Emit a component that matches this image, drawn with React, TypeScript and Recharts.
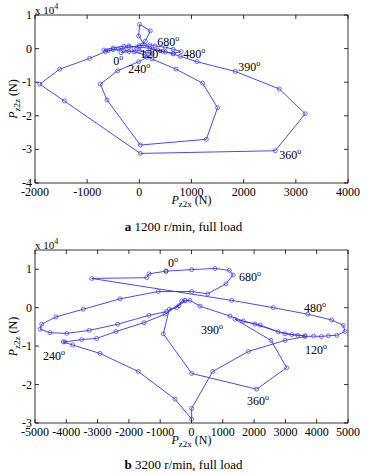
import { ScatterChart, Scatter, XAxis, YAxis, ReferenceArea, ReferenceDot } from "recharts";

const BLUE = "#3434f4";
const FONT = "'Liberation Serif', 'Times New Roman', serif";

// panel a: 1200 r/min, full load (N)
const A_PX = [-350, -200, 0, 150, 250, 150, -13, -416, -747, -619, 19, 1284, 1500, 1213, 703, 243, 100, -100, -300, -500, -650, -952, -1527, -1909, -1437, 19, 2605, 3180, 2682, 1839, 1105, 785, 650, 500, 350, 200, 0, -200, -300, -500, -680, -600, -400, -200, 0, 200, 300, 500, 650, 800, 650, 450, 250, 100, -13, 6, 211, 115, -100];
const A_PZ = [-1200, -900, -600, -1100, -1600, -2600, -3900, -6600, -10600, -15300, -28700, -27000, -17600, -10300, -6100, -3100, -1800, -1000, -400, -300, -900, -2900, -6100, -10600, -15600, -31200, -30400, -19400, -12000, -6800, -3900, -2300, -1600, -1000, -400, 100, 400, 800, 700, 200, -400, -600, -100, 400, 900, 1100, 800, 400, -200, -900, -1400, -800, -200, 1000, 3750, 7200, 5300, 2200, 0];
const A_XTICKS = [-2000, -1000, 0, 1000, 2000, 3000, 4000];
const A_YTICKS = [10000, 0, -10000, -20000, -30000, -40000];
const A_ANGLES = ["0", "120", "240", "360", "390", "480", "680"];
const A_ANGLE_X = [-498, 19, -211, 2682, 1897, 843, 345];
const A_ANGLE_Z = [-4880, -2800, -7260, -32860, -6670, -2800, 800];

// panel b: 3200 r/min, full load (N)
const B_PX = [-815, 5, 750, 1209, 1330, 1102, 517, 5, -1061, -2284, -3457, -4329, -4786, -4840, -4521, -3987, -3265, -2358, -1362, -798, -400, -200, -50, 272, 1230, 1655, 2188, 2773, 3200, 3626, 3400, 2987, 2029, 1390, 2540, 3041, 2083, 5, -901, -709, -473, -313, -208, -847, -1517, -2412, -3029, -3508, -4043, -4096, -3796, -2923, -1700, -527, 5, 5, 677, 1815, 2987, 3626, 3900, 4150, 4371, 4639, 4904, 4850, 4479, 3712, 2614, 1284, -3189, -1431, -1358, -815];
const B_PZ = [9500, 9900, 10200, 9700, 8500, 6200, 3600, 4200, 4200, 2300, -400, -2400, -4300, -5600, -6500, -6700, -5900, -4300, -2000, -1000, 500, 1800, 1900, 400, -2200, -3500, -4500, -6300, -7000, -7300, -7200, -6800, -4300, -3000, -8500, -15600, -21200, -17100, -6800, -400, 0, 1700, 1900, -1700, -3900, -6200, -8000, -8300, -8900, -8900, -9700, -11900, -16600, -23800, -29000, -26200, -16600, -11400, -8500, -7500, -7400, -7500, -7300, -7200, -6200, -4600, -3200, -1700, 0, 1900, 7600, 7800, 8800, 9500];
const B_XTICKS = [-5000, -4000, -3000, -2000, -1000, 0, 1000, 2000, 3000, 4000, 5000];
const B_YTICKS = [10000, 0, -10000, -20000, -30000];
const B_ANGLES = ["0", "680", "480", "390", "120", "240", "360"];
const B_ANGLE_X = [-751, 1518, 3594, 304, 3626, -4744, 1773];
const B_ANGLE_Z = [10510, 6860, -1230, -6960, -12180, -13740, -25210];

type PanelProps = {
  px: number[];
  pz: number[];
  xTicks: number[];
  yTicks: number[];
  xDomain: [number, number];
  yDomain: [number, number];
  angles: string[];
  angleX: number[];
  angleZ: number[];
  height: number;
  margin: { top: number; right: number; bottom: number; left: number };
};

function Panel(p: PanelProps) {
  const data = p.px.map((x, i) => ({ x, y: p.pz[i] }));
  const plotTop = p.margin.top;
  const plotBottom = p.height - p.margin.bottom - 20;
  const plotLeft = p.margin.left + 35;
  const plotRight = 367 - p.margin.right;

  return (
    <ScatterChart width={367} height={p.height} margin={p.margin}>
      <XAxis
        type="number"
        dataKey="x"
        domain={p.xDomain}
        ticks={p.xTicks}
        interval={0}
        allowDataOverflow
        height={20}
        axisLine={false}
        tickLine={false}
        tick={(t: any) => (
          <g>
            <line x1={t.payload.coordinate} x2={t.payload.coordinate} y1={plotBottom} y2={plotBottom - 4} stroke="#000" strokeWidth={0.8} />
            <line x1={t.payload.coordinate} x2={t.payload.coordinate} y1={plotTop} y2={plotTop + 4} stroke="#000" strokeWidth={0.8} />
            <text x={t.payload.coordinate} y={plotBottom + 13} textAnchor="middle" fontSize={12} fontFamily={FONT} fill="#000">
              {t.payload.value}
            </text>
          </g>
        )}
        label={{
          content: () => (
            <text x={(plotLeft + plotRight) / 2} y={plotBottom + 21} textAnchor="middle" fontSize={12} fontFamily={FONT} fill="#000">
              <tspan fontStyle="italic">P</tspan>
              <tspan fontSize={9} dy={3}>z2x</tspan>
              <tspan dy={-3}> (N)</tspan>
            </text>
          ),
        }}
      />
      <YAxis
        type="number"
        dataKey="y"
        domain={p.yDomain}
        ticks={p.yTicks}
        interval={0}
        allowDataOverflow
        width={35}
        axisLine={false}
        tickLine={false}
        tick={(t: any) => (
          <g>
            <line x1={plotLeft} x2={plotLeft + 4} y1={t.payload.coordinate} y2={t.payload.coordinate} stroke="#000" strokeWidth={0.8} />
            <line x1={plotRight} x2={plotRight - 4} y1={t.payload.coordinate} y2={t.payload.coordinate} stroke="#000" strokeWidth={0.8} />
            <text x={plotLeft - 3} y={t.payload.coordinate + 4} textAnchor="end" fontSize={12} fontFamily={FONT} fill="#000">
              {t.payload.value / 10000}
            </text>
          </g>
        )}
        label={{
          content: () => {
            const cy = (plotTop + plotBottom) / 2;
            return (
              <g>
                <text x={17} y={cy} transform={`rotate(-90, 17, ${cy})`} textAnchor="middle" fontSize={12} fontFamily={FONT} fill="#000">
                  <tspan fontStyle="italic">P</tspan>
                  <tspan fontSize={9} dy={3}>z2z</tspan>
                  <tspan dy={-3}> (N)</tspan>
                </text>
                <text x={plotLeft} y={plotTop - 1} fontSize={11} fontFamily={FONT} fill="#000">
                  x 10<tspan fontSize={8} dy={-5}>4</tspan>
                </text>
              </g>
            );
          },
        }}
      />
      <ReferenceArea
        x1={p.xDomain[0]}
        x2={p.xDomain[1]}
        y1={p.yDomain[0]}
        y2={p.yDomain[1]}
        fill="none"
        stroke="#000"
        strokeWidth={0.8}
        ifOverflow="visible"
      />
      <Scatter
        data={data}
        isAnimationActive={false}
        line={{ stroke: BLUE, strokeWidth: 0.9 }}
        lineType="joint"
        shape={(s: any) => <circle cx={s.cx} cy={s.cy} r={2} fill="none" stroke={BLUE} strokeWidth={0.7} />}
      />
      {p.angles.map((a, i) => (
        <ReferenceDot
          key={a}
          x={p.angleX[i]}
          y={p.angleZ[i]}
          r={0}
          ifOverflow="visible"
          shape={(s: any) => (
            <text x={s.cx} y={s.cy} fontSize={12} fontFamily={FONT} fill="#000">
              {a}
              <tspan fontSize={8} dy={-5}>o</tspan>
            </text>
          )}
        />
      ))}
    </ScatterChart>
  );
}

const captionStyle: React.CSSProperties = {
  position: "absolute",
  left: 0,
  width: 367,
  textAlign: "center",
  fontFamily: FONT,
  fontSize: 13,
  lineHeight: "15px",
  color: "#000",
};

export default function App() {
  return (
    <div style={{ position: "absolute", left: 0, top: 0, width: 367, height: 474, background: "#fff" }}>
      <div style={{ position: "absolute", left: 0, top: 0 }}>
        <Panel
          px={A_PX}
          pz={A_PZ}
          xTicks={A_XTICKS}
          yTicks={A_YTICKS}
          xDomain={[-2000, 4000]}
          yDomain={[-40000, 10000]}
          angles={A_ANGLES}
          angleX={A_ANGLE_X}
          angleZ={A_ANGLE_Z}
          height={215}
          margin={{ top: 15, right: 19, bottom: 12, left: 0 }}
        />
      </div>
      <div style={{ ...captionStyle, top: 219 }}>
        <b>a</b> 1200 r/min, full load
      </div>
      <div style={{ position: "absolute", left: 0, top: 230 }}>
        <Panel
          px={B_PX}
          pz={B_PZ}
          xTicks={B_XTICKS}
          yTicks={B_YTICKS}
          xDomain={[-5000, 5000]}
          yDomain={[-30000, 15000]}
          angles={B_ANGLES}
          angleX={B_ANGLE_X}
          angleZ={B_ANGLE_Z}
          height={240}
          margin={{ top: 20, right: 19, bottom: 27, left: 0 }}
        />
      </div>
      <div style={{ ...captionStyle, top: 457 }}>
        <b>b</b> 3200 r/min, full load
      </div>
    </div>
  );
}
